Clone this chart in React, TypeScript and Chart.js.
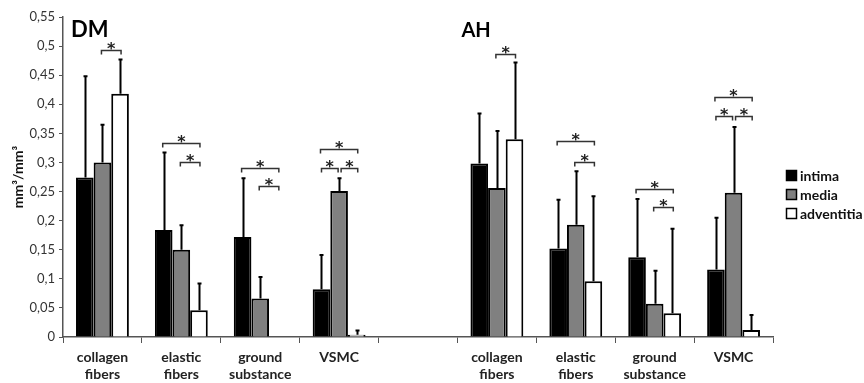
import React, { useEffect, useRef } from "react";
import { Chart, registerables } from "chart.js";
Chart.register(...registerables);

const categories: string[][] = [
  ["collagen", "fibers"], ["elastic", "fibers"], ["ground", "substance"], ["VSMC"], [""],
  ["collagen", "fibers"], ["elastic", "fibers"], ["ground", "substance"], ["VSMC"],
];
const seriesNames = ["intima", "media", "adventitia"];
const seriesColors = ["#000000", "#808080", "#ffffff"];
const intima = [0.274, 0.184, 0.172, 0.082, null, 0.298, 0.152, 0.137, 0.116];
const media = [0.3, 0.15, 0.066, 0.251, null, 0.256, 0.193, 0.057, 0.248];
const adventitia = [0.418, 0.046, 0.001, 0.004, null, 0.34, 0.096, 0.041, 0.012];
const intimaErr = [0.448, 0.317, 0.273, 0.141, null, 0.384, 0.236, 0.237, 0.205];
const mediaErr = [0.365, 0.192, 0.103, 0.273, null, 0.354, 0.285, 0.114, 0.361];
const adventitiaErr = [0.477, 0.092, null, 0.011, null, 0.472, 0.242, 0.186, 0.038];
const yTickLabels = ["0", "0,05", "0,1", "0,15", "0,2", "0,25", "0,3", "0,35", "0,4", "0,45", "0,5", "0,55"];
const yTitle = "mm³/mm³";
const panelLabels = [
  { text: "DM", cat: 0 },
  { text: "AH", cat: 5 },
];
// significance brackets: category, series a, series b, height (value units)
const brackets = [
  { cat: 0, a: 1, b: 2, y: 0.493 },
  { cat: 1, a: 0, b: 2, y: 0.334 },
  { cat: 1, a: 1, b: 2, y: 0.3 },
  { cat: 2, a: 0, b: 2, y: 0.291 },
  { cat: 2, a: 1, b: 2, y: 0.26 },
  { cat: 3, a: 0, b: 2, y: 0.323 },
  { cat: 3, a: 0, b: 1, y: 0.29 },
  { cat: 3, a: 1, b: 2, y: 0.29 },
  { cat: 5, a: 1, b: 2, y: 0.487 },
  { cat: 6, a: 0, b: 2, y: 0.337 },
  { cat: 6, a: 1, b: 2, y: 0.3 },
  { cat: 7, a: 0, b: 2, y: 0.254 },
  { cat: 7, a: 1, b: 2, y: 0.223 },
  { cat: 8, a: 0, b: 2, y: 0.412 },
  { cat: 8, a: 0, b: 1, y: 0.379 },
  { cat: 8, a: 1, b: 2, y: 0.379 },
];

const FONT = "Lato, 'Open Sans', sans-serif";

const overlay = {
  id: "overlay",
  afterDatasetsDraw(chart: any) {
    const ctx = chart.ctx as CanvasRenderingContext2D;
    const ys = chart.scales.y;
    const xs = chart.scales.x;
    const area = chart.chartArea;
    const errs = [intimaErr, mediaErr, adventitiaErr];
    ctx.save();
    // error bars
    ctx.strokeStyle = "#000";
    ctx.lineWidth = 2;
    errs.forEach((arr, di) => {
      const meta = chart.getDatasetMeta(di);
      arr.forEach((e, i) => {
        const v = chart.data.datasets[di].data[i];
        if (e == null || v == null) return;
        const bar = meta.data[i];
        const px = Math.round(bar.x) + 0.5;
        const top = ys.getPixelForValue(e);
        const base = ys.getPixelForValue(v);
        ctx.beginPath();
        ctx.moveTo(px, base);
        ctx.lineTo(px, top);
        ctx.moveTo(px - 2, top);
        ctx.lineTo(px + 2, top);
        ctx.stroke();
      });
    });
    // brackets
    ctx.strokeStyle = "#333";
    ctx.lineWidth = 1.5;
    ctx.fillStyle = "#222";
    ctx.font = `bold 16px 'DejaVu Sans', sans-serif`;
    ctx.textAlign = "center";
    ctx.textBaseline = "alphabetic";
    brackets.forEach((b) => {
      const xa = chart.getDatasetMeta(b.a).data[b.cat].x;
      const xb = chart.getDatasetMeta(b.b).data[b.cat].x;
      const adj = b.b - b.a === 1 && (b.cat === 3 || b.cat === 8);
      const x1 = xa + (adj ? 0 : -1) + (adj && b.a === 1 ? 2 : 0);
      const x2 = xb + 1 - (adj && b.a === 0 ? 2 : 0);
      const py = Math.round(ys.getPixelForValue(b.y)) + 0.5;
      ctx.beginPath();
      ctx.moveTo(x1, py + 4);
      ctx.lineTo(x1, py);
      ctx.lineTo(x2, py);
      ctx.lineTo(x2, py + 4);
      ctx.stroke();
      ctx.fillText("*", (x1 + x2) / 2, py + 3);
    });
    // panel labels
    ctx.textAlign = "left";
    ctx.fillStyle = "#000";
    panelLabels.forEach((p, idx) => {
      const cw = xs.getPixelForValue(1) - xs.getPixelForValue(0);
      const left = xs.getPixelForValue(p.cat) - cw / 2;
      ctx.font = `bold ${idx === 0 ? 22 : 20}px ${FONT}`;
      ctx.fillText(p.text, left + (idx === 0 ? 8 : 4), area.top + 20);
    });
    // y title
    ctx.save();
    ctx.translate(18, (area.top + area.bottom) / 2);
    ctx.rotate(-Math.PI / 2);
    ctx.textAlign = "center";
    ctx.textBaseline = "middle";
    ctx.font = `bold 14px ${FONT}`;
    ctx.fillStyle = "#111";
    ctx.fillText(yTitle, 0, 0);
    ctx.restore();
    // legend
    const lx = area.right + 13;
    chart.data.datasets.forEach((ds: any, i: number) => {
      const cy = 175 + i * 19;
      ctx.fillStyle = ds.backgroundColor;
      ctx.fillRect(lx, cy - 5, 11, 11);
      ctx.strokeStyle = "#000";
      ctx.lineWidth = 1.5;
      ctx.strokeRect(lx + 0.5, cy - 4.5, 10, 10);
      ctx.fillStyle = "#111";
      ctx.font = `bold 14px ${FONT}`;
      ctx.textBaseline = "middle";
      ctx.fillText(ds.label, lx + 14, cy + 1);
    });
    ctx.restore();
  },
};

export default function App() {
  const ref = useRef<HTMLCanvasElement | null>(null);
  useEffect(() => {
    if (!ref.current) return;
    const series = [intima, media, adventitia];
    const chart = new Chart(ref.current, {
      type: "bar",
      data: {
        labels: categories,
        datasets: series.map((d, i) => ({
          label: seriesNames[i],
          data: d,
          backgroundColor: seriesColors[i],
          borderColor: "#000",
          borderWidth: 2,
          categoryPercentage: 0.67,
          barPercentage: 1.0,
        })),
      },
      options: {
        animation: false,
        responsive: true,
        maintainAspectRatio: false,
        layout: { padding: { left: 0, right: 91, top: 17, bottom: 0 } },
        plugins: { legend: { display: false }, tooltip: { enabled: false } },
        scales: {
          x: {
            grid: { display: true, drawOnChartArea: false, drawTicks: true, tickLength: 6, color: "#555", offset: true },
            border: { display: true, color: "#555", width: 1.5 },
            ticks: { font: { family: FONT, size: 14, weight: "bold" }, color: "#222", padding: 6, maxRotation: 0, autoSkip: false },
            afterFit: (s: any) => { s.height = 46; },
          },
          y: {
            min: 0,
            max: 0.55,
            grid: { display: true, drawOnChartArea: false, drawTicks: true, tickLength: 4, color: "#555" },
            border: { display: true, color: "#555", width: 1.5 },
            ticks: {
              stepSize: 0.05,
              font: { family: FONT, size: 13 },
              color: "#333",
              padding: 4,
              callback: (_v: any, i: number) => yTickLabels[i],
            },
            afterFit: (s: any) => { s.width = 63; },
          },
        },
      },
      plugins: [overlay],
    });
    return () => chart.destroy();
  }, []);
  return (
    <div style={{ position: "absolute", left: 0, top: 0, width: 864, height: 383, background: "#fff" }}>
      <canvas ref={ref} />
    </div>
  );
}
